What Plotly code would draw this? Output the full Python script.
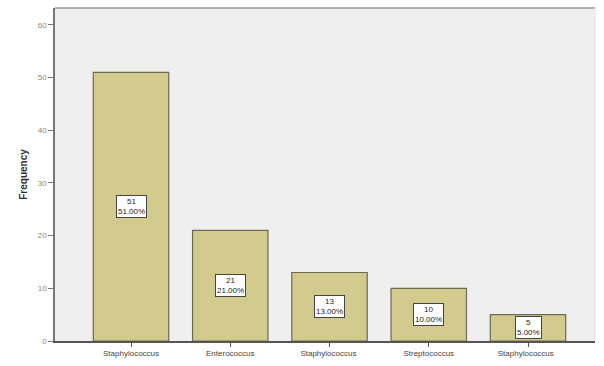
import plotly.graph_objects as go

categories = ["Staphylococcus", "Enterococcus", "Staphylococcus ", "Streptococcus", "Staphylococcus  "]
frequencies = [51, 21, 13, 10, 5]
percents = ["51.00%", "21.00%", "13.00%", "10.00%", "5.00%"]
y_ticks = [0, 10, 20, 30, 40, 50, 60]

fig = go.Figure()
fig.add_trace(go.Bar(
    x=list(range(len(categories))),
    y=frequencies,
    width=0.76,
    marker=dict(color="#d3cb8e", line=dict(color="#6b6a55", width=1.2)),
    hoverinfo="skip",
))

for i, (v, p) in enumerate(zip(frequencies, percents)):
    fig.add_annotation(
        x=i, y=v / 2, text=f"{v}<br>{p}", showarrow=False,
        font=dict(family="Arial, Liberation Sans", size=8, color="#222"),
        bgcolor="white", bordercolor="#444", borderwidth=1, borderpad=1,
    )

fig.update_layout(
    width=604, height=366,
    margin=dict(l=55, r=9, t=8, b=23),
    paper_bgcolor="white",
    plot_bgcolor="#efefef",
    showlegend=False,
    font=dict(family="Arial, Liberation Sans", color="#555"),
)
fig.update_xaxes(
    range=[-0.766, 4.675],
    tickmode="array", tickvals=list(range(len(categories))), ticktext=categories,
    ticks="outside", ticklen=4, tickcolor="#555",
    tickfont=dict(size=8, color="#444"),
    showline=True, linecolor="#555", linewidth=1.5, mirror=False,
    showgrid=False, zeroline=False,
)
fig.update_yaxes(
    range=[0, 63.2],
    tickmode="array", tickvals=y_ticks,
    ticks="outside", ticklen=5, tickcolor="#777",
    tickfont=dict(size=8, color="#888"),
    showline=True, linecolor="#777", linewidth=1.5,
    showgrid=False, zeroline=False,
    title=dict(text="<b>Frequency</b>", font=dict(size=10, color="#333"), standoff=8),
)
# top and right border lines of the chart frame
fig.add_shape(type="line", xref="paper", yref="paper", x0=0, x1=1, y0=1, y1=1,
              line=dict(color="#999", width=1.5))
fig.add_shape(type="line", xref="paper", yref="paper", x0=1, x1=1, y0=0, y1=1,
              line=dict(color="#ddd", width=1))

fig.write_html("out.html")
